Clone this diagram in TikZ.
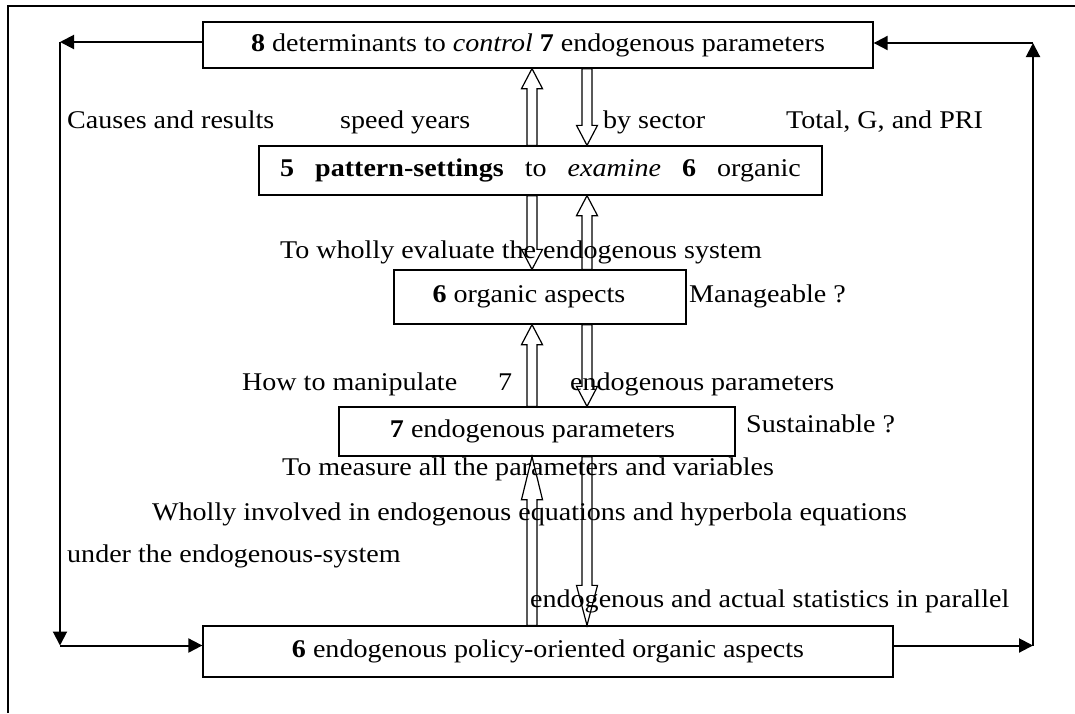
\documentclass[tikz,border=0pt]{standalone}
\usepackage{fontspec}
\setmainfont{Liberation Serif}[FakeStretch=1.1]
\usetikzlibrary{arrows.meta, positioning, calc}

% hollow block arrow: [head length]{tail}{tip}
\newcommand{\hollowarrow}[3][20]{%
  \coordinate (ha-tail) at (#2);
  \coordinate (ha-tip) at (#3);
  \coordinate (ha-base) at ($(ha-tip)!#1pt!(ha-tail)$);
  \draw[blockarrow] ($(ha-tail)!5pt!90:(ha-tip)$) -- ($(ha-base)!5pt!90:(ha-tip)$)
    -- ($(ha-base)!10.5pt!90:(ha-tip)$) -- (ha-tip) -- ($(ha-base)!10.5pt!-90:(ha-tip)$)
    -- ($(ha-base)!5pt!-90:(ha-tip)$) -- ($(ha-tail)!5pt!-90:(ha-tip)$) -- cycle;}

\begin{document}
\begin{tikzpicture}[x=1pt, y=-1pt, font=\fontsize{25.5}{30}\selectfont,
  stagebox/.style={draw, line width=1.3pt, inner sep=0pt},
  note/.style={anchor=base west, inner sep=0pt},
  blockarrow/.style={draw, fill=white, line width=1.2pt, line join=miter},
  feedback/.style={line width=2pt, -{Triangle[length=14pt, width=14pt]}}]
  \useasboundingbox (0,0) rectangle (1075,713);

  % Outer frame (cut by the page)
  \draw[line width=1.3pt] (8,713) -- (8,6) -- (1075,6);

  % Boxes
  \node[stagebox, minimum width=670pt, minimum height=46pt] (determ) at (538,45)
    {\textbf{8} determinants to \textit{control} \textbf{7} endogenous parameters};
  \node[stagebox, minimum width=563pt, minimum height=49pt] (pattern) at (540.5,170.5)
    {\textbf{5}\ \ \ \textbf{pattern-settings}\ \ \ to\ \ \ \textit{examine}\ \ \ \textbf{6}\ \ \ organic};
  \node[stagebox, minimum width=292pt, minimum height=54pt] (organic) at (540,297)
    {\textbf{6} organic aspects\kern22pt};
  \node[stagebox, minimum width=396pt, minimum height=49pt] (params) at (537,431.5)
    {\textbf{7} endogenous parameters\kern9pt};
  \node[stagebox, minimum width=690pt, minimum height=51pt] (policy) at (548,651.5)
    {\textbf{6} endogenous policy-oriented organic aspects};

  % Arrow columns and side rails
  \coordinate (colL) at (532,0);
  \coordinate (colR) at (587,0);
  \coordinate (leftrail) at (60,0);
  \coordinate (rightrail) at (1033,0);

  % Hollow arrows between the boxes
  \hollowarrow{colL |- pattern.north}{colL |- determ.south}
  \hollowarrow{colR |- determ.south}{colR |- pattern.north}
  \hollowarrow{colL |- pattern.south}{colL |- organic.north}
  \hollowarrow{colR |- organic.north}{colR |- pattern.south}
  \hollowarrow{colL |- params.north}{colL |- organic.south}
  \hollowarrow{colR |- organic.south}{colR |- params.north}
  \hollowarrow[43]{colL |- policy.north}{colL |- params.south}
  \hollowarrow[40]{colR |- params.south}{colR |- policy.north}

  % Feedback loops
  \coordinate (topin) at ([yshift=3pt]determ.west);
  \coordinate (topout) at ([yshift=2pt]determ.east);
  \coordinate (botin) at ([yshift=6pt]policy.west);
  \coordinate (botout) at ([yshift=6pt]policy.east);
  \coordinate (nw) at (leftrail |- topin);
  \coordinate (sw) at (leftrail |- botin);
  \coordinate (se) at (rightrail |- botout);
  \coordinate (ne) at (rightrail |- topout);
  \draw[feedback] (topin) -- (nw);
  \draw[feedback] (nw) -- (sw);
  \draw[feedback] (sw) -- (botin);
  \draw[feedback] (botout) -- (se);
  \draw[feedback] (se) -- (ne);
  \draw[feedback] (ne) -- (topout);

  % Labels
  \node[note] (causes) at (67,128) {Causes and results};
  \node[note] (speed) at (340,128) {speed years};
  \node[note] (sector) at (603,128) {by sector};
  \node[note] (total) at (786,128) {Total, G, and PRI};
  \node[note] (evaluate) at (280,258) {To wholly evaluate the endogenous system};
  \node[note] (manage) at (689,302) {Manageable ?};
  \node[note] (manip) at (242,390) {How to manipulate};
  \node[note] (seven) at (498,390) {7};
  \node[note] (endopar) at (570,390) {endogenous parameters};
  \node[note] (sustain) at (746,432) {Sustainable ?};
  \node[note] (measure) at (282,475) {To measure all the parameters and variables};
  \node[note] (wholly) at (152,520) {Wholly involved in endogenous equations and hyperbola equations};
  \node[note] (under) at (67,562) {under the endogenous-system};
  \node[note] (actual) at (530,607) {endogenous and actual statistics in parallel};
\end{tikzpicture}
\end{document}
